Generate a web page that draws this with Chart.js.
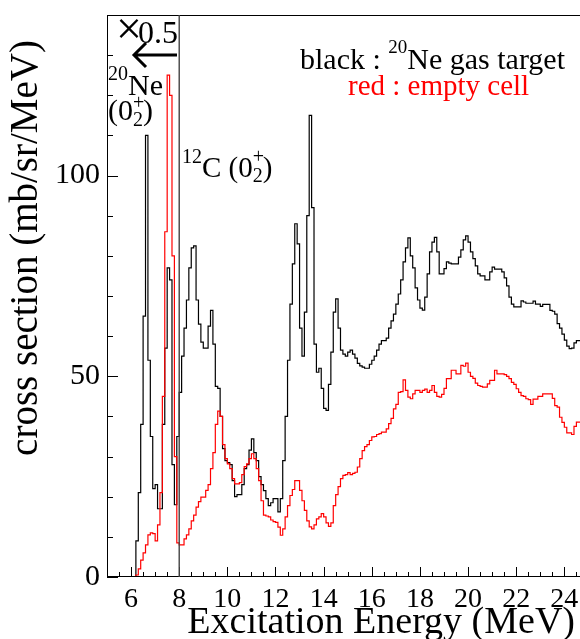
<!DOCTYPE html>
<html>
<head>
<meta charset="utf-8">
<script src="https://cdn.jsdelivr.net/npm/chart.js@4.4.1/dist/chart.umd.min.js"></script>
<style>
    html, body { margin: 0; padding: 0; background: #fff; }
    canvas { display: block; }
</style>
</head>
<body>
<canvas id="spectrum" width="580" height="639"></canvas>
<script>
// histogram bins: 0.1 MeV wide, first bin starts at 5.0 MeV
const binStart = 5.0;
const binWidth = 0.1;

// black : 20Ne gas target (below 8 MeV already scaled x0.5)
const neonGas = [
    0, 0, 0, 0, 0, 0, 0, 0, 0, 0,
    0, 0, 0, 9, 21, 38, 65, 110, 54, 35,
    22, 23, 17, 17, 38, 57, 77, 74, 28, 18,
    35, 46, 55, 62, 69, 77, 82, 82.5, 69, 63,
    58.5, 57, 57, 62.5, 66.4, 58, 47.5, 47, 40, 32,
    29, 28.5, 28, 24, 20, 20.5, 20.5, 23, 27, 28,
    31.6, 34.4, 31, 29, 25, 23, 21.5, 19.5, 17.8, 18.5,
    19.5, 19.5, 16.2, 19.5, 29, 40, 54, 68, 78, 88,
    83, 62, 55, 66, 90, 115, 92, 58, 51, 52,
    47, 42, 41.5, 48, 56, 66, 69.3, 62, 56.5, 55.5,
    55, 56, 56.5, 55.5, 54.5, 53.2, 52.6, 52.3, 52, 52,
    53, 54, 55, 56.5, 58, 58.9, 58.9, 59.5, 62, 63.8,
    65.5, 68, 70.5, 74, 78.5, 82, 84.5, 80, 77, 72,
    69, 67, 66.5, 69.7, 75.5, 81, 83.4, 84.6, 81, 75.5,
    75.5, 76.8, 78.5, 78.2, 78, 78, 78, 79.7, 81.5, 84,
    85, 83.4, 81, 79.3, 77.5, 75.5, 75, 75, 74, 74,
    76, 77.2, 76.7, 76.7, 76.7, 76, 74.5, 72.5, 69.7, 68,
    67.3, 67.3, 67.3, 68.8, 68.5, 68.2, 68.2, 68.2, 68.7, 68,
    68, 67.4, 67.9, 67.9, 67.9, 66.4, 66.2, 65.5, 63.1, 62,
    60.5, 59, 57.5, 56.9, 57, 58.3, 58.9
];

// red : empty cell
const emptyCell = [
    0, 0, 0, 0, 0, 0, 0, 0, 0, 0,
    0, 0, 0, 0.5, 2, 4.2, 6, 8, 10.5, 11,
    10.8, 9, 13, 21, 45, 86, 125, 120, 80, 30,
    8.5, 8, 8, 9.5, 10.5, 12, 14, 15.4, 17.4, 18.8,
    19.9, 19.9, 21.6, 23, 27, 31, 38, 41.3, 40, 33,
    29.5, 28.2, 27, 24.5, 23.2, 23.2, 23.5, 25.5, 27.5, 28.2,
    29.5, 30.7, 29.5, 27, 24, 19, 15.4, 15.2, 15, 14.2,
    13.8, 13.6, 12.4, 10.4, 12, 15, 17.8, 20.3, 21.8, 24,
    24, 21.6, 19, 16.6, 14, 12.5, 12, 13, 14.5, 15,
    15.8, 15, 13.5, 12.6, 13.5, 17.8, 20.5, 22.5, 24.5, 25.3,
    25.5, 26, 25.5, 25.8, 26.1, 27.4, 29.5, 31.5, 32.5, 33,
    34, 34.9, 35, 35.5, 35.7, 36.1, 36.1, 36.9, 38.2, 39.5,
    41.9, 43, 46, 46.2, 49.1, 46.5, 44.8, 44.4, 45.6, 46.5,
    46.5, 46, 46.5, 46.8, 46, 46.5, 47.7, 46, 45, 44.8,
    45.5, 47, 49.4, 49.4, 51.5, 51.5, 50.6, 50.6, 52.7, 52.5,
    53.3, 51, 50, 49.5, 48.3, 47.7, 47.5, 47.3, 47.3, 48.1,
    49, 49, 51.5, 50.6, 50.6, 50.6, 50.4, 50, 49.4, 48.5,
    48, 46.9, 46, 45.2, 45, 44.4, 44.2, 43, 44.3, 44.3,
    45, 45, 45.6, 45.6, 45.6, 45.6, 44.5, 42.7, 42.3, 39.8,
    38.5, 37.3, 35.9, 35.9, 35.5, 37.5, 38.6
];

const xLabelTicks = [6, 8, 10, 12, 14, 16, 18, 20, 22, 24];
const yLabelTicks = [0, 50, 100];
const xMinorStep = 0.5;
const yMinorStep = 10;
const scaleBoundary = 8; // left of this line the gas data is x0.5

const serif = '"Liberation Serif", "Times New Roman", serif';

function toSteps(values) {
    const pts = values.map((v, i) => ({ x: binStart + i * binWidth, y: v }));
    pts.push({ x: binStart + values.length * binWidth, y: values[values.length - 1] });
    return pts;
}

// draws a run of text pieces (for super/subscripts)
function drawRuns(ctx, x, y, runs, color) {
    ctx.fillStyle = color;
    ctx.textAlign = "left";
    ctx.textBaseline = "alphabetic";
    for (const r of runs) {
        ctx.font = `${r.size}px ${serif}`;
        ctx.fillText(r.text, x, y + (r.dy || 0));
        if (!r.stack) x += ctx.measureText(r.text).width;
    }
}

const framePlugin = {
    id: "frame",
    afterDraw(chart) {
        const { ctx, chartArea: a, scales: { x, y } } = chart;
        ctx.save();

        // frame
        ctx.strokeStyle = "#000";
        ctx.lineWidth = 1;
        ctx.strokeRect(a.left + 0.5, a.top + 0.5, a.right - a.left, a.bottom - a.top - 1);

        // inward ticks
        ctx.beginPath();
        for (let v = x.min; v <= x.max; v += xMinorStep) {
            const px = Math.round(x.getPixelForValue(v)) + 0.5;
            const len = xLabelTicks.includes(v) ? 10 : 5;
            ctx.moveTo(px, a.bottom);
            ctx.lineTo(px, a.bottom - len);
        }
        for (let v = y.min; v <= y.max; v += yMinorStep) {
            const py = Math.round(y.getPixelForValue(v)) + 0.5;
            const len = yLabelTicks.includes(v) ? 11 : 6;
            ctx.moveTo(a.left, py);
            ctx.lineTo(a.left + len, py);
        }
        ctx.stroke();

        // boundary line at 8 MeV
        const pb = x.getPixelForValue(scaleBoundary);
        ctx.strokeStyle = "#444";
        ctx.lineWidth = 1.4;
        ctx.beginPath();
        ctx.moveTo(pb, a.top);
        ctx.lineTo(pb, a.bottom);
        ctx.stroke();

        // x0.5 with arrow
        drawRuns(ctx, 116, 44, [{ text: "\u00d7", size: 46 }], "#000");
        ctx.font = `32px ${serif}`;
        ctx.textAlign = "right";
        ctx.fillText("0.5", 178, 43);
        ctx.strokeStyle = "#000";
        ctx.lineWidth = 3;
        ctx.beginPath();
        ctx.moveTo(177, 55);
        ctx.lineTo(134, 55);
        ctx.moveTo(146, 43);
        ctx.lineTo(134, 55);
        ctx.lineTo(146, 67);
        ctx.stroke();

        // peak labels
        drawRuns(ctx, 108, 95, [
            { text: "20", size: 20, dy: -15 },
            { text: "Ne", size: 30 },
        ], "#000");
        drawRuns(ctx, 108, 120, [
            { text: "(", size: 30 },
            { text: "0", size: 30 },
            { text: "+", size: 20, dy: -11, stack: true },
            { text: "2", size: 20, dy: 6 },
            { text: ")", size: 30 },
        ], "#000");
        drawRuns(ctx, 182, 177, [
            { text: "12", size: 20, dy: -14 },
            { text: "C (", size: 29 },
            { text: "0", size: 29 },
            { text: "+", size: 20, dy: -14, stack: true },
            { text: "2", size: 20, dy: 5 },
            { text: ")", size: 29 },
        ], "#000");

        // legend text
        drawRuns(ctx, 300, 69, [
            { text: "black : ", size: 30 },
            { text: "20", size: 19, dy: -16 },
            { text: "Ne gas target", size: 30 },
        ], "#000");
        drawRuns(ctx, 348, 95, [{ text: "red : empty cell", size: 29 }], "#ff0000");

        // axis titles (right/top aligned)
        ctx.fillStyle = "#000";
        ctx.font = `38px ${serif}`;
        ctx.textAlign = "right";
        ctx.textBaseline = "alphabetic";
        ctx.fillText("Excitation Energy (MeV)", 575, 633);
        ctx.font = `39px ${serif}`;
        ctx.translate(37, 40);
        ctx.rotate(-Math.PI / 2);
        ctx.fillText("cross section (mb/sr/MeV)", 0, 0);

        ctx.restore();
    },
};

const ctx = document.getElementById("spectrum").getContext("2d");
new Chart(ctx, {
    type: "line",
    data: {
        datasets: [
            {
                label: "empty cell",
                data: toSteps(emptyCell),
                borderColor: "#ff0000",
                borderWidth: 1.2,
                stepped: "after",
                pointRadius: 0,
                fill: false,
            },
            {
                label: "20Ne gas target",
                data: toSteps(neonGas),
                borderColor: "#000000",
                borderWidth: 1.2,
                stepped: "after",
                pointRadius: 0,
                fill: false,
            },
        ],
    },
    options: {
        responsive: false,
        animation: false,
        devicePixelRatio: 1,
        layout: { padding: { top: 15, left: 0, right: 0, bottom: 0 } },
        plugins: {
            legend: { display: false },
            tooltip: { enabled: false },
        },
        scales: {
            x: {
                type: "linear",
                min: 5,
                max: 24.65,
                grid: { display: false, drawTicks: false },
                border: { display: false },
                afterBuildTicks: (s) => {
                    s.ticks = xLabelTicks.map((v) => ({ value: v }));
                },
                afterFit: (s) => {
                    s.height = 62;
                    s.paddingLeft = 0;
                    s.paddingRight = 0;
                },
                ticks: {
                    font: { family: serif, size: 28 },
                    color: "#000",
                    padding: 6,
                    maxRotation: 0,
                    autoSkip: false,
                },
            },
            y: {
                type: "linear",
                min: 0,
                max: 140,
                grid: { display: false, drawTicks: false },
                border: { display: false },
                afterBuildTicks: (s) => {
                    s.ticks = yLabelTicks.map((v) => ({ value: v }));
                },
                afterFit: (s) => {
                    s.width = 107;
                    s.paddingTop = 0;
                    s.paddingBottom = 0;
                },
                ticks: {
                    font: { family: serif, size: 30 },
                    color: "#000",
                    padding: 7,
                    autoSkip: false,
                },
            },
        },
    },
    plugins: [framePlugin],
});
</script>
</body>
</html>
